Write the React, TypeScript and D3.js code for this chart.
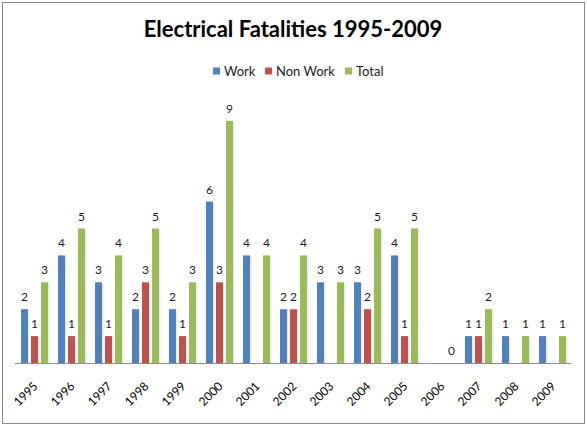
import React from 'react';
import * as d3 from 'd3';

const years = ['1995', '1996', '1997', '1998', '1999', '2000', '2001', '2002', '2003', '2004', '2005', '2006', '2007', '2008', '2009'];
// null = blank cell in the source (no bar, no label)
const work: (number | null)[] = [2, 4, 3, 2, 2, 6, 4, 2, 3, 3, 4, null, 1, 1, 1];
const nonWork: (number | null)[] = [1, 1, 1, 3, 1, 3, null, 2, null, 2, 1, null, 1, null, null];
const total: (number | null)[] = [3, 5, 4, 5, 3, 9, 4, 4, 3, 5, 5, 0, 2, 1, 1];

const seriesNames = ['Work', 'Non Work', 'Total'];
const seriesColors = ['#4F81BD', '#C0504D', '#9BBB59'];
const seriesValues = [work, nonWork, total];

const W = 587;
const H = 426;
const font = 'Lato, "Open Sans", sans-serif';

const App = () => {
    const x0 = d3.scaleBand<string>()
        .domain(years)
        .range([16, 571])
        .paddingInner(0.27)
        .paddingOuter(0.135);

    const x1 = d3.scaleBand<string>()
        .domain(seriesNames)
        .range([0, x0.bandwidth()])
        .paddingInner(0.3);

    const y = d3.scaleLinear()
        .domain([0, 10])
        .range([363, 94]);

    const legendX = [213, 265, 345];

    return (
        <svg width={W} height={H} style={{ position: 'absolute', left: 0, top: 0 }}>
            <rect x={0} y={0} width={W} height={H} fill="#fff" />
            <rect x={2.5} y={2.5} width={582} height={421} fill="none" stroke="#8c8c8c" strokeWidth={1} />

            <text x={293} y={37} textAnchor="middle" fontFamily={font} fontWeight="bold" fontSize={22} fill="#000">
                Electrical Fatalities 1995-2009
            </text>

            {seriesNames.map((name, i) => (
                <g key={name} transform={`translate(${legendX[i]},71)`}>
                    <rect x={0} y={-3.5} width={7} height={7} fill={seriesColors[i]} />
                    <text x={11} y={4.5} fontFamily={font} fontSize={13} fill="#222">{name}</text>
                </g>
            ))}

            {years.map((yr, yi) => (
                <g key={yr} transform={`translate(${x0(yr)},0)`}>
                    {seriesNames.map((name, si) => {
                        const v = seriesValues[si][yi];
                        if (v === null) return null;
                        const bx = x1(name) as number;
                        const bw = x1.bandwidth();
                        return (
                            <g key={name}>
                                {v > 0 && (
                                    <>
                                        <rect x={bx + 1.5} y={y(v) + 1} width={bw} height={y(0) - y(v) - 1} fill="#000" opacity={0.08} />
                                        <rect x={bx} y={y(v)} width={bw} height={y(0) - y(v)} fill={seriesColors[si]} />
                                    </>
                                )}
                                <text x={bx + bw / 2} y={y(v) - 8} textAnchor="middle" fontFamily={font} fontSize={12} fill="#1a1a2a">
                                    {v}
                                </text>
                            </g>
                        );
                    })}
                </g>
            ))}

            <line x1={15} x2={571} y1={363.5} y2={363.5} stroke="#8c8c8c" strokeWidth={1} />

            {years.map((yr) => {
                const cx = (x0(yr) as number) + x0.bandwidth() / 2;
                return (
                    <text key={yr} transform={`translate(${cx + 1},384) rotate(-45)`} textAnchor="end"
                        fontFamily={font} fontSize={12} fill="#000" dy="0.35em">
                        {yr}
                    </text>
                );
            })}
        </svg>
    );
};

export default App;
